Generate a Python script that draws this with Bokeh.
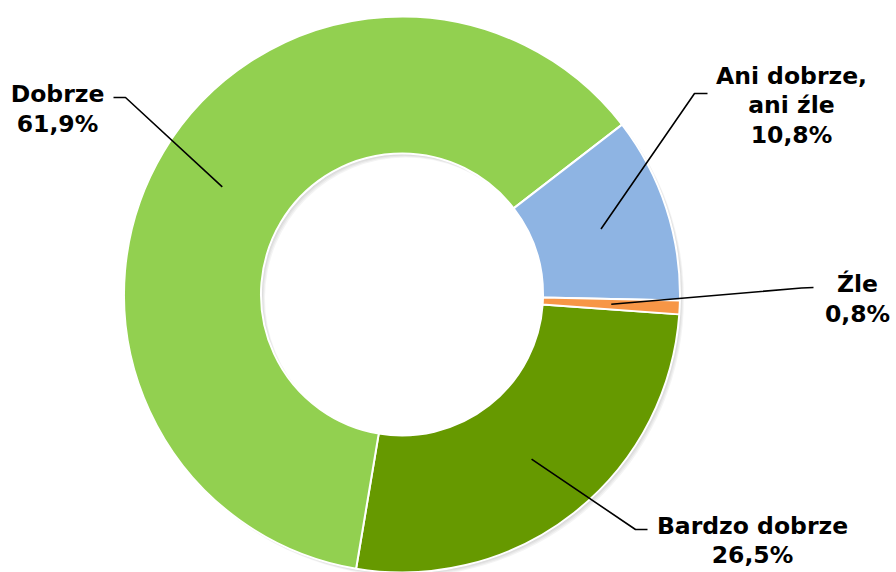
import math
from bokeh.plotting import figure
from bokeh.models import Range1d
from bokeh.core.properties import value
from bokeh.embed import file_html
from bokeh.resources import INLINE

# ---- data ----
categories = ["Bardzo dobrze", "Dobrze", "Ani dobrze,\nani źle", "Źle"]
shares = [26.5, 61.9, 10.8, 0.8]
colors = ["#669900", "#92D050", "#8EB4E3", "#F79646"]

# ---- layout (reference pixel coords converted to plot coords) ----
W, H = 896, 572


def P(x, y):
    return (x, H - y)


cx, cy = P(401.5, 294)
R_OUT, R_IN = 278, 141
first_angle = math.radians(-4.1)   # start of first slice, going clockwise

# label anchor (centre x, first baseline y) and leader elbow/end points
label_pos = [(752, 525), (57, 93.5), (791, 75), (857, 283.5)]
leader_elbow = [(635, 529), (125, 97), (694, 93), (801, 287.5)]
leader_end = [(647, 529), (113, 97), (707, 93), (813, 287)]
LINE_GAP = 29.5

p = figure(width=W, height=H, x_range=Range1d(0, W), y_range=Range1d(0, H),
           output_backend="svg", toolbar_location=None,
           x_axis_location=None, y_axis_location=None, min_border=0)
p.grid.visible = False
p.outline_line_color = None
p.background_fill_color = "white"
p.border_fill_color = "white"

# soft drop shadow
for d in (1, 2, 3, 4):
    p.annulus(x=cx + d, y=cy - d, inner_radius=R_IN, outer_radius=R_OUT,
              fill_color="black", fill_alpha=0.045, line_color=None)

starts, ends, mids = [], [], []
a = first_angle
for s in shares:
    sweep = s / 100.0 * 2 * math.pi
    starts.append(a - sweep)
    ends.append(a)
    mids.append(a - sweep / 2)
    a -= sweep

p.annular_wedge(x=cx, y=cy, inner_radius=R_IN, outer_radius=R_OUT,
                start_angle=starts, end_angle=ends, direction="anticlock",
                fill_color=colors, line_color="white", line_width=2)

# leader lines
r_mid = (R_OUT + R_IN) / 2
xs, ys = [], []
for m, el, en in zip(mids, leader_elbow, leader_end):
    sx, sy = cx + r_mid * math.cos(m), cy + r_mid * math.sin(m)
    ex, ey = P(*el)
    nx, ny = P(*en)
    xs.append([sx, ex, nx])
    ys.append([sy, ey, ny])
p.multi_line(xs=xs, ys=ys, line_color="black", line_width=1.6)

# labels
tx, ty, tt = [], [], []
for cat, s, (lx, ly) in zip(categories, shares, label_pos):
    lines = cat.split("\n") + [f"{s:.1f}".replace(".", ",") + "%"]
    for i, ln in enumerate(lines):
        x, y = P(lx, ly + i * LINE_GAP)
        tx.append(x)
        ty.append(y)
        tt.append(ln)
p.text(x=tx, y=ty, text=tt, text_align="center", text_baseline="alphabetic",
       text_font=value("DejaVu Sans"), text_font_style="bold",
       text_font_size="23.5px", text_color="black")

open("out.html", "w").write(file_html(p, INLINE))
